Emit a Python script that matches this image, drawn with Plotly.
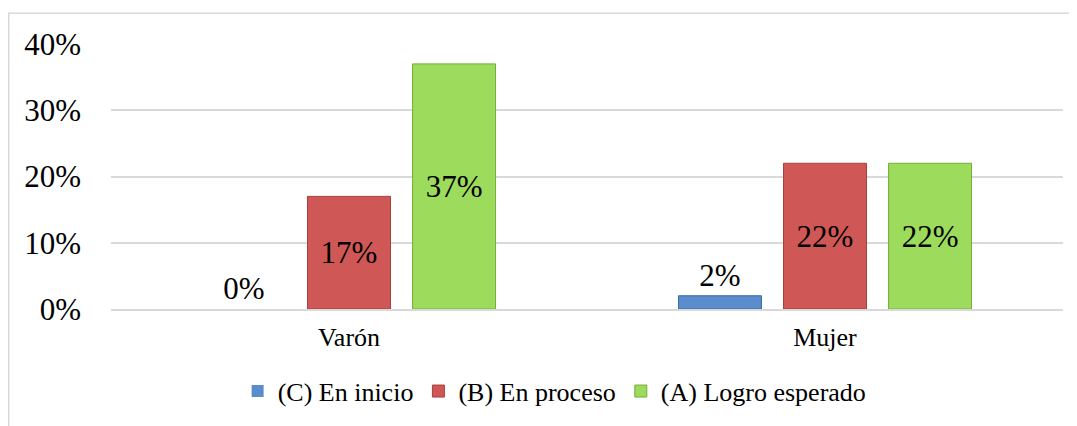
import plotly.graph_objects as go

categories = ["Varón", "Mujer"]
series_names = ["(C) En inicio", "(B) En proceso", "(A) Logro esperado"]
c_values = [0.00, 0.02]
b_values = [0.17, 0.22]
a_values = [0.37, 0.22]
y_ticks = [0, 0.1, 0.2, 0.3, 0.4]
y_tick_labels = ["0%", "10%", "20%", "30%", "40%"]

colors = ["#5a8dcc", "#cf5856", "#9ddb5c"]
line_colors = ["#3b6aa6", "#a63f3d", "#76ad3c"]
FONT = "Liberation Serif"

fig = go.Figure()
for name, vals, col, lc, pos in [
    (series_names[0], c_values, colors[0], line_colors[0], "outside"),
    (series_names[1], b_values, colors[1], line_colors[1], "inside"),
    (series_names[2], a_values, colors[2], line_colors[2], "inside"),
]:
    fig.add_trace(go.Bar(
        x=categories, y=vals, name=name,
        marker=dict(color=col, line=dict(color=lc, width=[1 if v > 0 else 0 for v in vals])),
        text=[f"{round(v*100)}%" for v in vals],
        textposition=pos,
        insidetextanchor="middle",
        textfont=dict(family=FONT, size=31, color="black"),
        cliponaxis=False,
    ))

# page body has an 8px default margin, so the figure is 8px smaller
fig.update_layout(
    width=1069, height=418,
    margin=dict(l=103, r=14, t=36, b=115),
    paper_bgcolor="white", plot_bgcolor="white",
    barmode="group", bargap=0.338, bargroupgap=0.21,
    font=dict(family=FONT, color="black"),
    legend=dict(
        orientation="h", x=0.466, xanchor="center", y=-0.31, yanchor="middle",
        font=dict(family=FONT, size=26, color="black"),
        itemwidth=30,
    ),
    shapes=[dict(
        type="rect", xref="paper", yref="paper",
        x0=-0.1074, x1=1.05, y0=-0.6, y1=1.116,
        line=dict(color="#d9d9d9", width=1.5), fillcolor="rgba(0,0,0,0)",
        layer="below",
    )],
)
fig.update_yaxes(
    range=[0, 0.4], tickvals=y_ticks, ticktext=y_tick_labels,
    showgrid=True, gridcolor="#d9d9d9", gridwidth=1.5,
    zeroline=False, showline=False,
    tickfont=dict(family=FONT, size=31, color="black"),
    ticklabelstandoff=29,
)
fig.update_xaxes(
    showline=True, linecolor="#d9d9d9", linewidth=1.5,
    showgrid=False,
    tickfont=dict(family=FONT, size=26, color="black"),
    ticklabelstandoff=4,
)

fig.write_html("out.html")
